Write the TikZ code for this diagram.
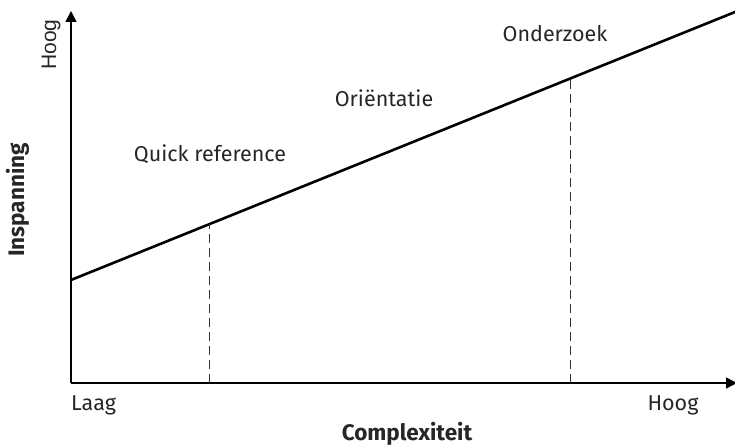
\documentclass[tikz,border=0pt]{standalone}
\usepackage{fontspec}
\setmainfont{Fira Sans}
\newfontfamily\axisfont{Liberation Sans}
\usetikzlibrary{arrows.meta,calc}
\tikzset{
  axis/.style={line width=1.5pt, -{Triangle[width=11pt,length=11pt]}},
  trend/.style={line width=2.6pt},
  border/.style={dash pattern=on 9pt off 5pt, line width=1pt, draw=black!80},
  lbl/.style={font=\fontsize{21.5}{24}\selectfont, text=black!85, inner sep=0pt, anchor=base},
  title/.style={font=\fontsize{22.5}{26}\selectfont\bfseries, text=black!85, inner sep=0pt, anchor=base}
}

\begin{document}
\begin{tikzpicture}[x=1pt,y=-1pt]
  \useasboundingbox (0,0) rectangle (735,446);
  % Define points
  \coordinate (O)    at (71,383);
  \coordinate (ytop) at (71,11);
  \coordinate (xend) at (737,383);
  \coordinate (s)    at (71,280);
  \coordinate (e)    at (740,10);
  \coordinate (q)    at ($(s)!0.2063!(e)$);
  \coordinate (o)    at ($(s)!0.7459!(e)$);

  % Axes
  \draw[axis] (O) -- (ytop);
  \draw[axis] (O) -- (xend);

  % Trend line and borders
  \draw[trend] (s) -- (e);
  \draw[border] (q |- O) -- (q);
  \draw[border] (o |- O) -- (o);

  % Labels
  \node[lbl, rotate=90, anchor=base west, font=\axisfont\fontsize{21}{24}\selectfont] (yhoog) at (56,70) {Hoog};
  \node[title, rotate=90] (yt) at (24,200) {Inspanning};
  \node[lbl, anchor=base west] (laag) at (71,410) {Laag};
  \node[lbl] (xhoog) at (673,410) {Hoog};
  \node[title] (xt) at (407,440) {Complexiteit};
  \node[lbl] (quick) at (210,162) {Quick reference};
  \node[lbl] (orient) at (384,107) {Oriëntatie};
  \node[lbl] (onder) at (555,42) {Onderzoek};
\end{tikzpicture}
\end{document}
